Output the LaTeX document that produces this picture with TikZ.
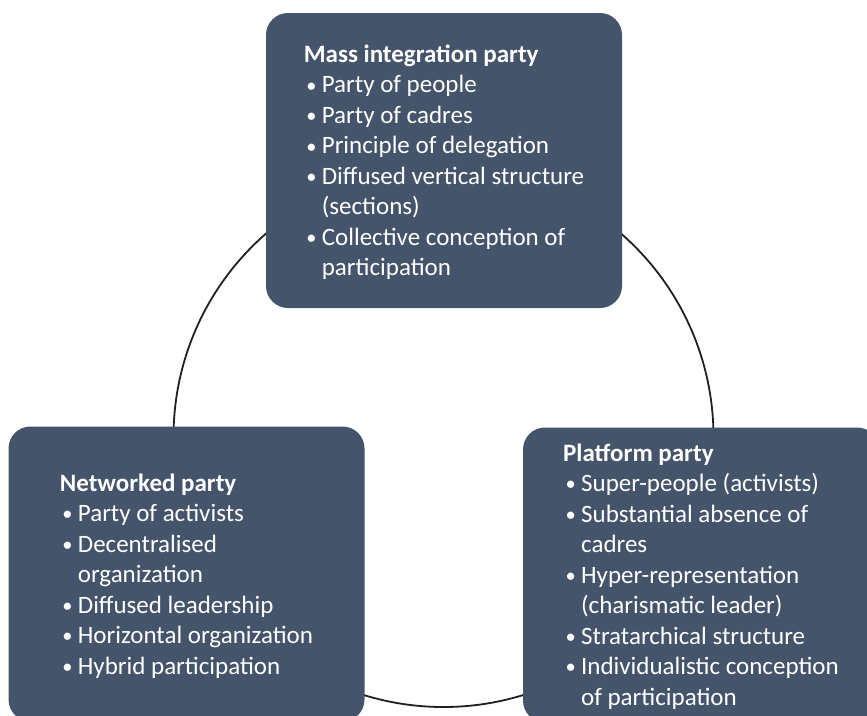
\documentclass[tikz,border=0pt]{standalone}
\usepackage{graphicx}
\usepackage{fontspec}
\setmainfont{Carlito}
\definecolor{boxfill}{HTML}{44546A}
\definecolor{ringcol}{HTML}{231F20}
\tikzset{
  partybox/.style={rectangle, rounded corners=22pt, fill=boxfill,
    minimum width=356pt, minimum height=295pt, inner sep=0pt},
  partytext/.style={text=white, inner sep=0pt, align=left,
    font=\fontsize{25}{30.5}\selectfont},
  ringshape/.style={circle, draw=ringcol, line width=1.8pt, minimum size=540pt, inner sep=0pt}
}
\newcommand{\blt}{\hspace{2.5pt}\raisebox{0.8pt}{\scalebox{0.82}{\textbullet}}}
\newcommand{\ttl}[1]{\multicolumn{2}{@{}l@{}}{\bfseries #1}}
\begin{document}
\begin{tikzpicture}[x=1pt,y=-1pt]
\clip (0,0) rectangle (867,715);
\node[ringshape] (ring) at (443.5,437) {};
\node[partybox] (mass) at (444,160.5) {};
\node[partybox] (networked) at (186.5,574) {};
\node[partybox] (platform) at (701,575) {};
\node[partytext] (masstext) at ([yshift=-2.5pt]mass.center) {%
\begin{tabular}{@{}p{18pt}@{}l@{}}
\ttl{Mass integration party}\\
\blt & Party of people\\
\blt & Party of cadres\\
\blt & Principle of delegation\\
\blt & Diffused vertical structure\\
     & (sections)\\
\blt & Collective conception of\\
     & participation
\end{tabular}};
\node[partytext] (networkedtext) at ([yshift=-2.5pt]networked.center) {%
\begin{tabular}{@{}p{18pt}@{}l@{}}
\ttl{Networked party}\\
\blt & Party of activists\\
\blt & Decentralised\\
     & organization\\
\blt & Diffused leadership\\
\blt & Horizontal organization\\
\blt & Hybrid participation
\end{tabular}};
\node[partytext] (platformtext) at ([yshift=-2pt]platform.center) {%
\begin{tabular}{@{}p{18pt}@{}l@{}}
\ttl{Platform party}\\
\blt & Super-people (activists)\\
\blt & Substantial absence of\\
     & cadres\\
\blt & Hyper-representation\\
     & (charismatic leader)\\
\blt & Stratarchical structure\\
\blt & Individualistic conception\\
     & of participation
\end{tabular}};
\end{tikzpicture}
\end{document}
